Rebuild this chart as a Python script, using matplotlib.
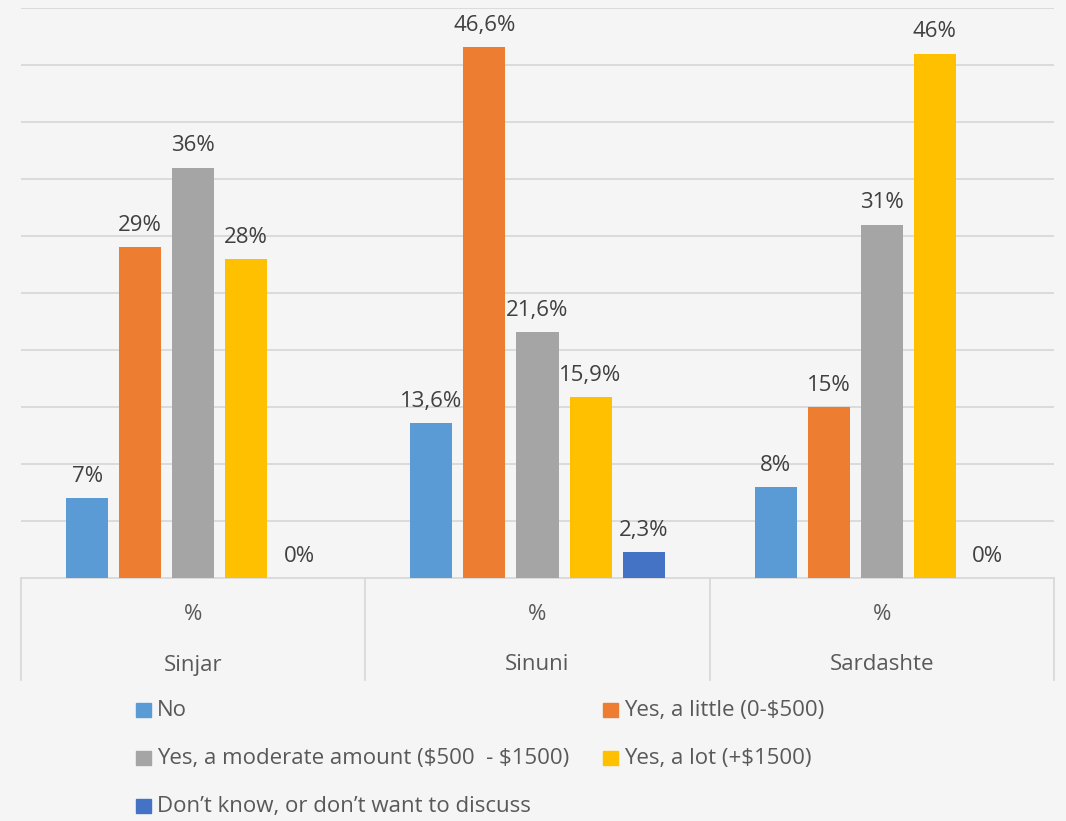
import numpy as np
import matplotlib
matplotlib.use("Agg")
import matplotlib.pyplot as plt
from matplotlib.patches import Rectangle

plt.rcParams['font.family'] = ['Open Sans', 'DejaVu Sans']
plt.rcParams['text.parse_math'] = False

# survey answers per location, in percent
groups = ['Sinjar', 'Sinuni', 'Sardashte']
sub_label = '%'
series = ['No', 'Yes, a little (0-$500)', 'Yes, a moderate amount ($500  - $1500)',
          'Yes, a lot (+$1500)', 'Don\u2019t know, or don\u2019t want to discuss']
colors = ['#5B9BD5', '#ED7D31', '#A5A5A5', '#FFC000', '#4472C4']
no_answer = [7, 13.6, 8]
a_little = [29, 46.6, 15]
moderate = [36, 21.6, 31]
a_lot = [28, 15.9, 46]
dont_know = [0, 2.3, 0]
values = [no_answer, a_little, moderate, a_lot, dont_know]

bg = '#F5F5F5'
txt = '#595959'
lbl = '#404040'
grid_c = '#D9D9D9'

fig = plt.figure(figsize=(10.66, 8.21), dpi=100, facecolor=bg)
ax = fig.add_axes([21 / 1066, 1 - 578 / 821, (1054 - 21) / 1066, 570 / 821])
ax.set_facecolor(bg)

x = np.arange(len(groups))
step = 0.154
width = 0.122
for i, (name, vals, c) in enumerate(zip(series, values, colors)):
    pos = x + (i - 2) * step
    ax.bar(pos, vals, width, color=c, zorder=3)
    for p, v in zip(pos, vals):
        label = f'{v:g}%'.replace('.', ',')
        ax.annotate(label, (p, v), xytext=(0, 8), textcoords='offset points',
                    ha='center', va='bottom', fontsize=16, color=lbl)

ax.set_xlim(-0.5, len(groups) - 0.5)
ax.set_ylim(0, 50)
ax.set_yticks(np.arange(5, 51, 5))
ax.yaxis.grid(True, color=grid_c, linewidth=1.3, zorder=0)
ax.tick_params(left=False, bottom=False, labelleft=False, labelbottom=False)
for s in ['left', 'right', 'top']:
    ax.spines[s].set_visible(False)
ax.spines['bottom'].set_color(grid_c)
ax.spines['bottom'].set_linewidth(1.3)

# two-level category axis with separators
trans = ax.get_xaxis_transform()
depth = -(680 - 578) / 570
for xs in np.arange(-0.5, len(groups), 1.0):
    ax.plot([xs, xs], [0, depth], transform=trans, color=grid_c, lw=1.3, clip_on=False)
for xi, g in zip(x, groups):
    ax.text(xi, -(615 - 578) / 570, sub_label, transform=trans, ha='center', va='center',
            fontsize=16, color=txt)
    ax.text(xi, -(665 - 578) / 570, g, transform=trans, ha='center', va='center',
            fontsize=16, color=txt)

# legend laid out in two columns, row by row
col_x = [136, 603]
row_y = [710, 758, 806]
for i, (name, c) in enumerate(zip(series, colors)):
    px = col_x[i % 2]
    py = row_y[i // 2]
    fig.add_artist(Rectangle((px / 1066, 1 - (py + 7) / 821), 15 / 1066, 14 / 821,
                             transform=fig.transFigure, color=c))
    fig.text((px + 21) / 1066, 1 - py / 821, name, ha='left', va='center',
             fontsize=16, color=txt)

fig.savefig('out.png', dpi=100, facecolor=bg)
